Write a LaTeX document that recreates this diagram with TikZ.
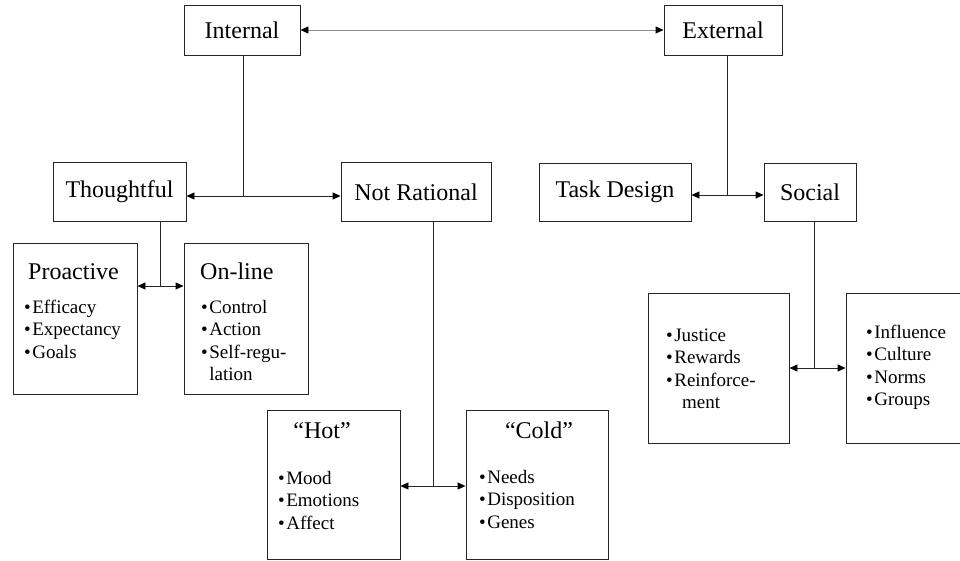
\documentclass[tikz,border=0pt]{standalone}
\usepackage{fontspec}
\setmainfont{Liberation Serif}
\usetikzlibrary{arrows.meta,positioning}

\newcommand{\headsize}{\fontsize{24}{28}\selectfont}
\newcommand{\itemsize}{\fontsize{19}{22.5}\selectfont}
\newcommand{\bul}{\textbullet\hspace{1.5pt}}

\tikzset{
  box/.style={draw=black!85, line width=0.9pt, inner sep=0pt, font=\headsize},
  head/.style={inner sep=0pt, font=\headsize},
  items/.style={inner sep=0pt, align=left, font=\itemsize},
  link/.style={draw=black!85, line width=0.9pt},
  twoway/.style={link, {Triangle[length=8pt,width=7pt,color=black]}-{Triangle[length=8pt,width=7pt,color=black]}}
}

\begin{document}
\begin{tikzpicture}[x=1pt,y=-1pt]
    \useasboundingbox (0,0) rectangle (960,560);

    % Top level
    \node[box, minimum width=116pt, minimum height=50pt] (int) at (242,30) {Internal};
    \node[box, minimum width=118pt, minimum height=50pt] (ext) at (723,30) {External};

    % Second level
    \node[box, minimum width=133pt, minimum height=59pt] (tho) at (119.5,192) {Thoughtful};
    \node[box, minimum width=150pt, minimum height=59pt] (notr) at (416,192) {Not Rational};
    \node[box, minimum width=152pt, minimum height=58pt] (task) at (615,192) {Task Design};
    \node[box, minimum width=92pt, minimum height=58pt] (soc) at (810,192) {Social};

    % Third level (boxes with lists)
    \node[box, minimum width=124pt, minimum height=151pt] (pro) at (75,318.5) {};
    \node[box, minimum width=124pt, minimum height=151pt] (onl) at (246,318.5) {};
    \node[box, minimum width=133pt, minimum height=149pt] (hot) at (333.5,484.5) {};
    \node[box, minimum width=142pt, minimum height=149pt] (cold) at (537,484.5) {};
    \node[box, minimum width=141pt, minimum height=150pt] (jus) at (718.5,368) {};
    \node[box, minimum width=116pt, minimum height=150pt] (inf) at (904,368) {};

    % Headings and items (items anchored at the baseline of their last line)
    \node[head, anchor=base west] (pro-h) at (28,279) {Proactive};
    \node[items, anchor=base west] (pro-l) at (24,358) {\bul Efficacy\\\bul Expectancy\\\bul Goals};
    \node[head, anchor=base west] (onl-h) at (200,279) {On-line};
    \node[items, anchor=base west] (onl-l) at (201,380.5) {\bul Control\\\bul Action\\\bul Self-regu-\\\phantom{\bul}lation};
    \node[head, anchor=base] (hot-h) at (322,438) {“Hot”};
    \node[items, anchor=base west] (hot-l) at (278,529) {\bul Mood\\\bul Emotions\\\bul Affect};
    \node[head, anchor=base] (cold-h) at (539,438) {“Cold”};
    \node[items, anchor=base west] (cold-l) at (479,528) {\bul Needs\\\bul Disposition\\\bul Genes};
    \node[items, anchor=base west] (jus-l) at (666,408.5) {\bul Justice\\\bul Rewards\\\bul Reinforce-\\\hspace*{16pt}ment};
    \node[items, anchor=base west] (inf-l) at (866,405.5) {\bul Influence\\\bul Culture\\\bul Norms\\\bul Groups};

    % Junctions
    \coordinate (j-int) at (243,196);
    \coordinate (j-ext) at (727,195);
    \coordinate (j-tho) at (160,286);
    \coordinate (j-notr) at (433,486);
    \coordinate (j-soc) at (814,368);

    % Connectors
    \draw[twoway, draw=black!45] (int) -- (ext);

    \draw[link] (int.south -| j-int) -- (j-int);
    \draw[twoway] (tho.east |- j-int) -- (notr.west |- j-int);

    \draw[link] (ext.south -| j-ext) -- (j-ext);
    \draw[twoway] (task.east |- j-ext) -- (soc.west |- j-ext);

    \draw[link] (tho.south -| j-tho) -- (j-tho);
    \draw[twoway] (pro.east |- j-tho) -- (onl.west |- j-tho);

    \draw[link] (notr.south -| j-notr) -- (j-notr);
    \draw[twoway] (hot.east |- j-notr) -- (cold.west |- j-notr);

    \draw[link] (soc.south -| j-soc) -- (j-soc);
    \draw[twoway] (jus.east |- j-soc) -- (inf.west |- j-soc);
\end{tikzpicture}
\end{document}
